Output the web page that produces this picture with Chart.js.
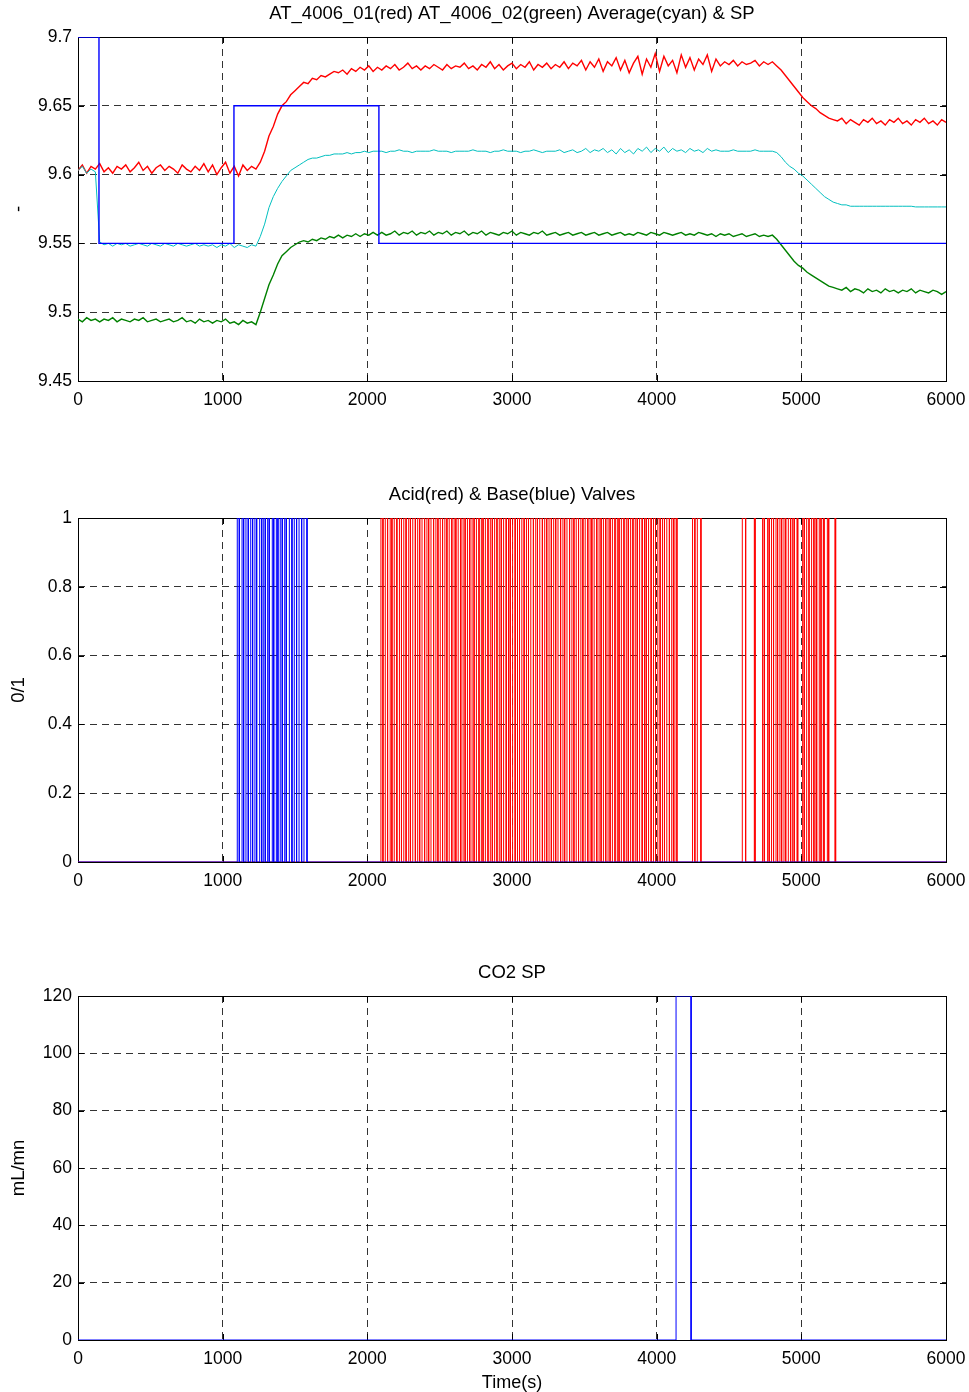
<!DOCTYPE html>
<html>
<head>
<meta charset="utf-8">
<script src="https://cdn.jsdelivr.net/npm/chart.js@4.4.1/dist/chart.umd.min.js"></script>
<style>
  html, body { margin: 0; padding: 0; background: #fff; }
  body { width: 969px; height: 1392px; position: relative; overflow: hidden; }
  canvas { position: absolute; left: 0; }
</style>
</head>
<body>
<canvas id="phChart" width="969" height="410" style="top:0px"></canvas>
<canvas id="valveChart" width="969" height="410" style="top:481px"></canvas>
<canvas id="co2Chart" width="969" height="439" style="top:959px"></canvas>
<script>
// sample times (s) for the pH traces
const sampleTimes = [
  0, 30, 60, 90, 120, 150, 180, 210, 240, 270,
  300, 330, 360, 390, 420, 450, 480, 510, 540, 570,
  600, 630, 660, 690, 720, 750, 780, 810, 840, 870,
  900, 930, 960, 990, 1020, 1050, 1080, 1110, 1140, 1170,
  1200, 1230, 1260, 1290, 1320, 1350, 1380, 1410, 1440, 1470,
  1500, 1530, 1560, 1590, 1620, 1650, 1680, 1710, 1740, 1770,
  1800, 1830, 1860, 1890, 1920, 1950, 1980, 2010, 2040, 2070,
  2100, 2130, 2160, 2190, 2220, 2250, 2280, 2310, 2340, 2370,
  2400, 2430, 2460, 2490, 2520, 2550, 2580, 2610, 2640, 2670,
  2700, 2730, 2760, 2790, 2820, 2850, 2880, 2910, 2940, 2970,
  3000, 3030, 3060, 3090, 3120, 3150, 3180, 3210, 3240, 3270,
  3300, 3330, 3360, 3390, 3420, 3450, 3480, 3510, 3540, 3570,
  3600, 3630, 3660, 3690, 3720, 3750, 3780, 3810, 3840, 3870,
  3900, 3930, 3960, 3990, 4020, 4050, 4080, 4110, 4140, 4170,
  4200, 4230, 4260, 4290, 4320, 4350, 4380, 4410, 4440, 4470,
  4500, 4530, 4560, 4590, 4620, 4650, 4680, 4710, 4740, 4770,
  4800, 4830, 4860, 4890, 4920, 4950, 4980, 5010, 5040, 5070,
  5100, 5130, 5160, 5190, 5220, 5250, 5280, 5310, 5340, 5370,
  5400, 5430, 5460, 5490, 5520, 5550, 5580, 5610, 5640, 5670,
  5700, 5730, 5760, 5790, 5820, 5850, 5880, 5910, 5940, 5970,
  6000
];

// AT_4006_01 (red)
const at01 = [
  9.603, 9.607, 9.601, 9.606, 9.604, 9.608, 9.602, 9.605, 9.601, 9.606,
  9.604, 9.607, 9.602, 9.605, 9.609, 9.603, 9.606, 9.601, 9.605, 9.607,
  9.603, 9.606, 9.604, 9.601, 9.607, 9.604, 9.602, 9.606, 9.603, 9.608,
  9.602, 9.607, 9.600, 9.605, 9.609, 9.601, 9.606, 9.599, 9.607, 9.603,
  9.606, 9.604, 9.609, 9.617, 9.628, 9.635, 9.644, 9.650, 9.653, 9.658,
  9.661, 9.664, 9.667, 9.666, 9.670, 9.669, 9.672, 9.671, 9.673, 9.675,
  9.674, 9.676, 9.673, 9.677, 9.675, 9.678, 9.676, 9.679, 9.675, 9.678,
  9.676, 9.679, 9.677, 9.680, 9.676, 9.678, 9.681, 9.677, 9.679, 9.676,
  9.679, 9.677, 9.680, 9.678, 9.676, 9.680, 9.677, 9.679, 9.678, 9.681,
  9.677, 9.679, 9.676, 9.680, 9.678, 9.682, 9.677, 9.680, 9.676, 9.679,
  9.681, 9.677, 9.680, 9.678, 9.682, 9.676, 9.680, 9.678, 9.681, 9.677,
  9.680, 9.678, 9.682, 9.677, 9.681, 9.679, 9.683, 9.676, 9.682, 9.678,
  9.684, 9.675, 9.682, 9.679, 9.685, 9.676, 9.683, 9.674, 9.681, 9.686,
  9.673, 9.684, 9.678, 9.688, 9.675, 9.686, 9.679, 9.683, 9.674, 9.687,
  9.678, 9.685, 9.676, 9.684, 9.680, 9.687, 9.675, 9.684, 9.679, 9.682,
  9.680, 9.683, 9.679, 9.682, 9.680, 9.681, 9.683, 9.679, 9.682, 9.680,
  9.682, 9.679, 9.676, 9.672, 9.668, 9.664, 9.660, 9.656, 9.653, 9.650,
  9.648, 9.645, 9.643, 9.641, 9.640, 9.639, 9.641, 9.637, 9.640, 9.638,
  9.636, 9.640, 9.638, 9.641, 9.637, 9.639, 9.636, 9.640, 9.638, 9.641,
  9.637, 9.639, 9.636, 9.640, 9.638, 9.641, 9.637, 9.639, 9.636, 9.640,
  9.638
];

// AT_4006_02 (green)
const at02 = [
  9.495, 9.493, 9.496, 9.494, 9.495, 9.493, 9.495, 9.494, 9.496, 9.493,
  9.495, 9.494, 9.493, 9.495, 9.494, 9.496, 9.493, 9.494, 9.495, 9.493,
  9.494, 9.495, 9.493, 9.494, 9.496, 9.493, 9.494, 9.492, 9.495, 9.493,
  9.494, 9.492, 9.494, 9.493, 9.495, 9.492, 9.493, 9.491, 9.494, 9.492,
  9.493, 9.491, 9.500, 9.510, 9.520, 9.527, 9.535, 9.541, 9.544, 9.547,
  9.549, 9.551, 9.552, 9.551, 9.553, 9.552, 9.554, 9.553, 9.555, 9.554,
  9.556, 9.554, 9.556, 9.555, 9.557, 9.555, 9.557, 9.556, 9.558, 9.556,
  9.558, 9.556, 9.557, 9.559, 9.556, 9.558, 9.557, 9.559, 9.556, 9.558,
  9.557, 9.559, 9.556, 9.558, 9.557, 9.559, 9.556, 9.558, 9.557, 9.559,
  9.556, 9.558, 9.557, 9.559, 9.556, 9.558, 9.557, 9.556, 9.558, 9.557,
  9.559, 9.556, 9.558, 9.557, 9.556, 9.558, 9.557, 9.559, 9.556, 9.557,
  9.558, 9.556, 9.557, 9.558, 9.556, 9.557, 9.558, 9.556, 9.557, 9.558,
  9.556, 9.557, 9.558, 9.556, 9.557, 9.558, 9.556, 9.557, 9.556, 9.558,
  9.557, 9.556, 9.558, 9.557, 9.556, 9.558, 9.557, 9.556, 9.557, 9.558,
  9.556, 9.557, 9.556, 9.558, 9.557, 9.556, 9.557, 9.555, 9.557, 9.556,
  9.557, 9.555, 9.556, 9.557, 9.555, 9.556, 9.557, 9.555, 9.556, 9.555,
  9.556, 9.553, 9.549, 9.545, 9.541, 9.537, 9.534, 9.532, 9.529, 9.527,
  9.525, 9.523, 9.521, 9.519, 9.518, 9.517, 9.516, 9.518, 9.515, 9.517,
  9.516, 9.514, 9.517, 9.515, 9.516, 9.514, 9.517, 9.515, 9.516, 9.514,
  9.516, 9.515, 9.517, 9.514, 9.516, 9.515, 9.514, 9.516, 9.515, 9.513,
  9.515
];

// Average (cyan)
const avgPh = [
  9.603, 9.606, 9.601, 9.604, 9.602, 9.551, 9.549, 9.550, 9.548, 9.550,
  9.549, 9.550, 9.548, 9.549, 9.550, 9.549, 9.548, 9.550, 9.549, 9.548,
  9.550, 9.549, 9.548, 9.550, 9.549, 9.548, 9.549, 9.550, 9.548, 9.549,
  9.548, 9.549, 9.547, 9.549, 9.548, 9.550, 9.547, 9.549, 9.548, 9.547,
  9.549, 9.548, 9.555, 9.564, 9.576, 9.584, 9.590, 9.595, 9.599, 9.603,
  9.605, 9.607, 9.609, 9.611, 9.612, 9.612, 9.613, 9.614, 9.614, 9.615,
  9.615, 9.615, 9.616, 9.615, 9.616, 9.616, 9.617, 9.616, 9.617, 9.617,
  9.617, 9.616, 9.617, 9.617, 9.618, 9.617, 9.617, 9.616, 9.617, 9.617,
  9.617, 9.617, 9.618, 9.617, 9.617, 9.617, 9.616, 9.617, 9.617, 9.617,
  9.617, 9.618, 9.617, 9.617, 9.617, 9.616, 9.617, 9.617, 9.618, 9.617,
  9.617, 9.617, 9.616, 9.617, 9.617, 9.618, 9.617, 9.616, 9.617, 9.617,
  9.617, 9.618, 9.616, 9.617, 9.618, 9.616, 9.617, 9.619, 9.616, 9.618,
  9.617, 9.619, 9.616, 9.618, 9.615, 9.619, 9.616, 9.618, 9.615, 9.619,
  9.617, 9.620, 9.616, 9.619, 9.617, 9.620, 9.616, 9.619, 9.617, 9.618,
  9.616, 9.619, 9.617, 9.618, 9.616, 9.619, 9.617, 9.618, 9.617, 9.617,
  9.617, 9.618, 9.617, 9.617, 9.617, 9.617, 9.618, 9.617, 9.617, 9.617,
  9.617, 9.616, 9.613, 9.609, 9.606, 9.604, 9.601, 9.599, 9.596, 9.593,
  9.590, 9.587, 9.584, 9.582, 9.580, 9.579, 9.578, 9.578, 9.577, 9.577,
  9.577, 9.577, 9.577, 9.577, 9.577, 9.577, 9.577, 9.577, 9.577, 9.577,
  9.577, 9.577, 9.577, 9.5765, 9.5765, 9.5765, 9.5765, 9.5765, 9.5765, 9.5765,
  9.5765
];

// set point (blue) step changes
const spTimes = [0, 145, 145, 1078, 1078, 2080, 2080, 6000];
const spValues = [9.7, 9.7, 9.55, 9.55, 9.65, 9.65, 9.55, 9.55];

// valve pulses (open/close times in s)
const baseOpen = [1101, 1134, 1161, 1194, 1223, 1256, 1284, 1311, 1343, 1371, 1398, 1429, 1461, 1495, 1528, 1562];
const baseClose = [1115, 1145, 1177, 1207, 1235, 1270, 1295, 1322, 1353, 1382, 1412, 1440, 1479, 1511, 1546, 1583];

const acidOpen = [
  2094, 2124, 2158, 2186, 2222, 2252, 2286, 2314, 2348, 2378, 2412, 2440, 2474, 2504, 2536, 2566,
  2600, 2628, 2662, 2692, 2724, 2754, 2788, 2816, 2850, 2880, 2912, 2942, 2976, 3004, 3038, 3068,
  3100, 3130, 3164, 3192, 3226, 3256, 3288, 3318, 3352, 3380, 3414, 3444, 3476, 3506, 3540, 3568,
  3602, 3632, 3664, 3694, 3728, 3756, 3790, 3820, 3852, 3882, 3916, 3944, 3978, 4008, 4040, 4070,
  4104, 4126, 4248, 4281, 4592, 4675, 4732, 4767, 4794, 4825, 4852, 4880, 4910, 4940, 4970, 5009,
  5037, 5071, 5101, 5124, 5152, 5180, 5232
];
const acidClose = [
  2108, 2140, 2170, 2204, 2236, 2268, 2298, 2332, 2362, 2396, 2424, 2458, 2488, 2520, 2550, 2584,
  2612, 2646, 2676, 2708, 2738, 2772, 2800, 2834, 2864, 2896, 2926, 2960, 2988, 3022, 3052, 3084,
  3114, 3148, 3176, 3210, 3240, 3272, 3302, 3336, 3364, 3398, 3428, 3460, 3490, 3524, 3552, 3586,
  3616, 3648, 3678, 3712, 3740, 3774, 3804, 3836, 3866, 3900, 3928, 3962, 3992, 4024, 4054, 4088,
  4116, 4140, 4264, 4306, 4615, 4680, 4744, 4778, 4808, 4836, 4864, 4892, 4926, 4951, 4975, 5020,
  5053, 5087, 5106, 5136, 5157, 5189, 5237
];

// CO2 set point (mL/mn)
const co2Open = [4134];
const co2Close = [4238];
const co2Level = 120;

// axis ticks
const timeTicks = [0, 1000, 2000, 3000, 4000, 5000, 6000];
const phTicks = [9.45, 9.5, 9.55, 9.6, 9.65, 9.7];
const valveTicks = [0, 0.2, 0.4, 0.6, 0.8, 1];
const co2Ticks = [0, 20, 40, 60, 80, 100, 120];

const FONT = "'Liberation Sans', Arial, Helvetica, sans-serif";
const T_END = 6000;

function toPoints(xs, ys) {
  return xs.map((x, i) => ({ x: x, y: ys[i] }));
}

// turn open/close lists into a 0/level step trace
function pulseTrace(opens, closes, level) {
  const pts = [{ x: 0, y: 0 }];
  opens.forEach((t, i) => {
    pts.push({ x: t, y: 0 }, { x: t, y: level }, { x: closes[i], y: level }, { x: closes[i], y: 0 });
  });
  pts.push({ x: T_END, y: 0 });
  return pts;
}

// axes box and inward ticks like the original plot
const boxPlugin = {
  id: "box",
  beforeDatasetsDraw(chart) {
    const { ctx, chartArea: a, scales } = chart;
    ctx.save();
    ctx.strokeStyle = "#000";
    ctx.lineWidth = 1;
    ctx.beginPath();
    scales.x.ticks.forEach((t) => {
      const px = Math.round(scales.x.getPixelForValue(t.value)) + 0.5;
      ctx.moveTo(px, a.bottom); ctx.lineTo(px, a.bottom - 6);
      ctx.moveTo(px, a.top); ctx.lineTo(px, a.top + 6);
    });
    scales.y.ticks.forEach((t) => {
      const py = Math.round(scales.y.getPixelForValue(t.value)) + 0.5;
      ctx.moveTo(a.left, py); ctx.lineTo(a.left + 6, py);
      ctx.moveTo(a.right, py); ctx.lineTo(a.right - 6, py);
    });
    ctx.stroke();
    ctx.strokeRect(Math.round(a.left) + 0.5, Math.round(a.top) + 0.5,
      Math.round(a.right - a.left), Math.round(a.bottom - a.top));
    ctx.restore();
  },
};

function makeOptions(title, yTicks, yMin, yMax, yTitle, xTitle, xAxisHeight) {
  return {
    responsive: false,
    animation: false,
    layout: { padding: { left: 8, right: 23, top: 0, bottom: 0 } },
    plugins: {
      legend: { display: false },
      tooltip: { enabled: false },
      title: {
        display: true,
        fullSize: false,
        text: title,
        color: "#000",
        font: { family: FONT, size: 18.5, weight: "normal" },
        padding: { top: 3, bottom: 11.8 },
      },
    },
    elements: { point: { radius: 0 }, line: { tension: 0, borderWidth: 1 } },
    scales: {
      x: {
        type: "linear",
        min: 0,
        max: T_END,
        afterBuildTicks: (s) => { s.ticks = timeTicks.map((v) => ({ value: v })); },
        afterFit: (s) => { s.height = xAxisHeight; s.paddingLeft = 0; s.paddingRight = 0; },
        ticks: {
          color: "#000",
          font: { family: FONT, size: 17.5 },
          padding: 9,
          maxRotation: 0,
          callback: (v) => String(v),
        },
        grid: { color: "rgba(0,0,0,0.8)", drawTicks: false, lineWidth: 1 },
        border: { display: false, dash: [7, 5] },
        title: {
          display: !!xTitle,
          text: xTitle || "",
          color: "#000",
          font: { family: FONT, size: 18 },
        },
      },
      y: {
        type: "linear",
        min: yMin,
        max: yMax,
        afterBuildTicks: (s) => { s.ticks = yTicks.map((v) => ({ value: v })); },
        afterFit: (s) => { s.width = 70; },
        ticks: {
          color: "#000",
          font: { family: FONT, size: 17.5 },
          padding: 6,
          callback: (v) => String(v),
        },
        grid: { color: "rgba(0,0,0,0.8)", drawTicks: false, lineWidth: 1 },
        border: { display: false, dash: [7, 5] },
        title: {
          display: true,
          text: yTitle,
          color: "#000",
          font: { family: FONT, size: 18.5 },
          padding: 0,
        },
      },
    },
  };
}

// pH chart
new Chart(document.getElementById("phChart").getContext("2d"), {
  type: "line",
  data: {
    datasets: [
      { label: "SP", data: toPoints(spTimes, spValues), borderColor: "#0000ff", borderWidth: 1.4 },
      { label: "Average", data: toPoints(sampleTimes, avgPh), borderColor: "#00bfbf" },
      { label: "AT_4006_02", data: toPoints(sampleTimes, at02), borderColor: "#008000", borderWidth: 1.4 },
      { label: "AT_4006_01", data: toPoints(sampleTimes, at01), borderColor: "#ff0000", borderWidth: 1.4 },
    ],
  },
  options: makeOptions("AT_4006_01(red) AT_4006_02(green) Average(cyan) & SP", phTicks, 9.45, 9.7, "-", null, 29),
  plugins: [boxPlugin],
});

// valve chart
new Chart(document.getElementById("valveChart").getContext("2d"), {
  type: "line",
  data: {
    datasets: [
      { label: "Base", data: pulseTrace(baseOpen, baseClose, 1), borderColor: "#0000ff" },
      { label: "Acid", data: pulseTrace(acidOpen, acidClose, 1), borderColor: "#ff0000" },
    ],
  },
  options: makeOptions("Acid(red) & Base(blue) Valves", valveTicks, 0, 1, "0/1", null, 29),
  plugins: [boxPlugin],
});

// CO2 chart
new Chart(document.getElementById("co2Chart").getContext("2d"), {
  type: "line",
  data: {
    datasets: [
      { label: "CO2 SP", data: pulseTrace(co2Open, co2Close, co2Level), borderColor: "#0000ff" },
    ],
  },
  options: makeOptions("CO2 SP", co2Ticks, 0, 120, "mL/mn", "Time(s)", 58),
  plugins: [boxPlugin],
});
</script>
</body>
</html>
